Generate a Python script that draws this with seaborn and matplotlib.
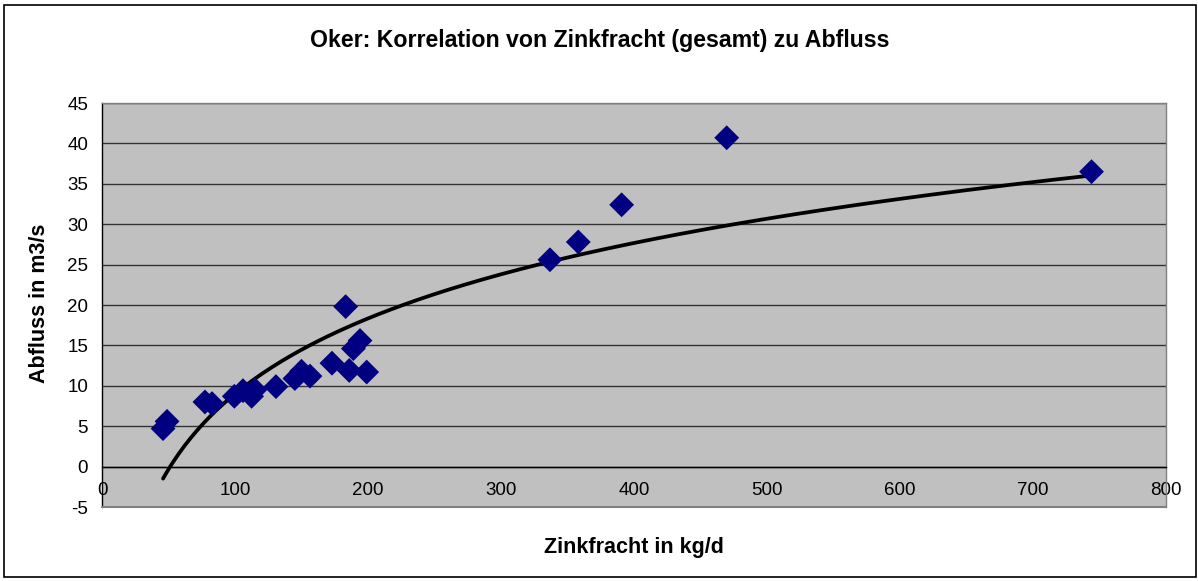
import numpy as np
import pandas as pd
import matplotlib
matplotlib.use("Agg")
import matplotlib.pyplot as plt
from matplotlib.patches import Rectangle
import seaborn as sns

# Data
zinkfracht = [45.9, 48.9, 77.4, 82.7, 99.5, 106.0, 112.5, 115.0, 130.8, 145.0,
              150.0, 156.4, 172.9, 183.2, 185.9, 189.0, 194.0, 199.0,
              336.8, 358.1, 390.7, 469.7, 744.0]
abfluss = [4.7, 5.6, 8.0, 7.8, 8.7, 9.4, 8.7, 9.5, 9.9, 10.9,
           11.8, 11.2, 12.8, 19.8, 11.9, 14.6, 15.6, 11.7,
           25.6, 27.8, 32.4, 40.7, 36.5]

title = "Oker: Korrelation von Zinkfracht (gesamt) zu Abfluss"
xlabel = "Zinkfracht in kg/d"
ylabel = "Abfluss in m3/s"
xticks = [0, 100, 200, 300, 400, 500, 600, 700, 800]
yticks = [-5, 0, 5, 10, 15, 20, 25, 30, 35, 40, 45]

sns.set_theme(style="white")
plt.rcParams['font.family'] = ['Liberation Sans', 'DejaVu Sans']
plt.rcParams['text.color'] = 'black'
plt.rcParams['xtick.color'] = 'black'
plt.rcParams['ytick.color'] = 'black'
plt.rcParams['xtick.labelcolor'] = 'black'
plt.rcParams['ytick.labelcolor'] = 'black'

df = pd.DataFrame({"x": zinkfracht, "y": abfluss})

# logarithmic trend line (least squares of y on ln x)
a, b = np.polyfit(np.log(df["x"]), df["y"], 1)
xt = np.linspace(df["x"].min(), df["x"].max(), 300)
trend = pd.DataFrame({"x": xt, "y": a * np.log(xt) + b})

fig = plt.figure(figsize=(11.98, 5.81), dpi=100)
fig.patch.set_facecolor("white")
ax = fig.add_axes([102/1198, 1 - 507/581, (1166-102)/1198, (507-103)/581])
ax.set_facecolor("#C0C0C0")

for yv in yticks:
    ax.axhline(yv, color="#333333", lw=1.0, zorder=1)

sns.lineplot(data=trend, x="x", y="y", ax=ax, color="black", lw=2.7, zorder=3)
sns.scatterplot(data=df, x="x", y="y", ax=ax, marker="D", s=160,
                color="#000080", edgecolor="none", linewidth=0, zorder=4)

ax.set_xlim(0, 800)
ax.set_ylim(-5, 45)

ax.spines['bottom'].set_position(('data', 0))
ax.spines['bottom'].set_color("black")
ax.spines['bottom'].set_linewidth(1.0)
ax.spines['left'].set_color("black")
ax.spines['left'].set_linewidth(1.0)
for s in ['top', 'right']:
    ax.spines[s].set_color("#808080")
    ax.spines[s].set_linewidth(1.0)
ax.axhline(-5, color="#808080", lw=1.5, zorder=5, clip_on=False)

ax.set_xticks(xticks)
ax.set_yticks(yticks)
ax.set_xticklabels([str(v) for v in xticks])
ax.set_yticklabels([str(v) for v in yticks])
ax.tick_params(axis='x', direction='out', length=5, width=1, color='black', pad=6,
               labelsize=13.5, labelcolor='black')
ax.tick_params(axis='y', direction='out', length=5, width=1, color='black', pad=5,
               labelsize=13.5, labelcolor='black')
ax.set_xlabel("")
ax.set_ylabel("")

fig.text(600/1198, 1 - 40/581, title, ha='center', va='center', fontsize=16.7,
         fontweight='bold', color='black')
fig.text(634/1198, 1 - 547/581, xlabel, ha='center', va='center', fontsize=15.5,
         fontweight='bold', color='black')
fig.text(40/1198, 1 - 303/581, ylabel, ha='center', va='center', fontsize=15.5,
         fontweight='bold', rotation=90, color='black')

fig.patches.append(Rectangle((4/1198, 4/581), 1192/1198, 572/581, transform=fig.transFigure,
                             fill=False, edgecolor='black', lw=1.2))

fig.savefig("out.png", dpi=100)
print(a, b)
